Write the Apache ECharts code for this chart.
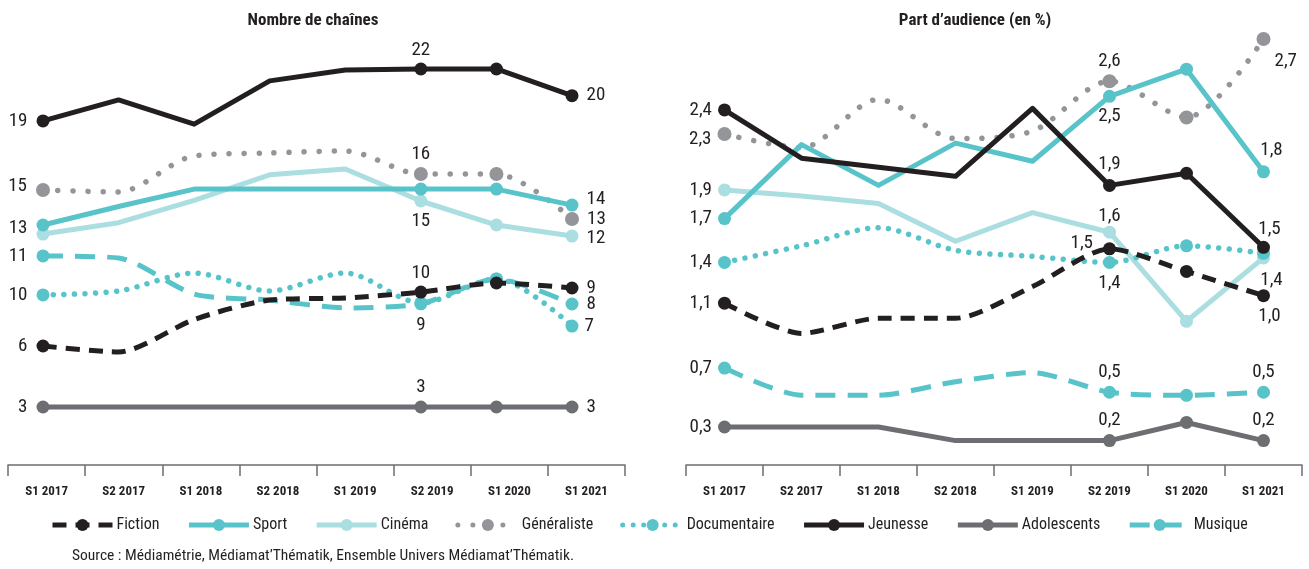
<!DOCTYPE html>
<html><head><meta charset="utf-8">
<script src="https://cdn.jsdelivr.net/npm/echarts@6/dist/echarts.min.js"></script>
<style>html,body{margin:0;padding:0;background:#fff}#c{width:1309px;height:569px}</style>
</head><body><div id="c"></div>
<script>
const categories = ['S1 2017','S2 2017','S1 2018','S2 2018','S1 2019','S2 2019','S1 2020','S1 2021'];

// Nombre de chaînes (values as read from the vertical position of each point)
const chFiction      = [6.43, 6.09, 7.92, 9.01, 9.13, 9.46, 9.97, 9.69];
const chSport        = [13.23, 14.27, 15.25, 15.25, 15.25, 15.25, 15.25, 14.35];
const chCinema       = [12.72, 13.36, 14.61, 16.05, 16.38, 14.58, 13.23, 12.61];
const chGeneraliste  = [15.2, 15.09, 17.11, 17.28, 17.39, 16.1, 16.1, 13.57];
const chDocumentaire = [9.3, 9.52, 10.53, 9.52, 10.53, 8.85, 10.2, 7.55];
const chJeunesse     = [19.08, 20.26, 18.9, 21.33, 21.94, 22.0, 22.0, 20.5];
const chAdolescents  = [3, 3, 3, 3, 3, 3, 3, 3];
const chMusique      = [11.49, 11.38, 9.35, 9.01, 8.57, 8.8, 10.2, 8.79];

const chFictionLbl      = ['6','','','','','10','','9'];
const chSportLbl        = ['13','','','','','','','14'];
const chCinemaLbl       = ['','','','','','15','','12'];
const chGeneralisteLbl  = ['15','','','','','16','','13'];
const chDocumentaireLbl = ['10','','','','','9','','7'];
const chJeunesseLbl     = ['19','','','','','22','','20'];
const chAdolescentsLbl  = ['3','','','','','3','','3'];
const chMusiqueLbl      = ['11','','','','','','','8'];

// Part d'audience (en %)
const auFiction      = [1.12, 0.92, 1.02, 1.02, 1.23, 1.48, 1.33, 1.17];
const auSport        = [1.68, 2.17, 1.9, 2.18, 2.06, 2.49, 2.67, 1.99];
const auCinema       = [1.87, 1.83, 1.78, 1.53, 1.72, 1.59, 1.0, 1.42];
const auGeneraliste  = [2.24, 2.15, 2.47, 2.21, 2.26, 2.59, 2.35, 2.87];
const auDocumentaire = [1.39, 1.5, 1.62, 1.47, 1.43, 1.39, 1.5, 1.45];
const auJeunesse     = [2.4, 2.08, 2.02, 1.96, 2.41, 1.9, 1.98, 1.49];
const auAdolescents  = [0.3, 0.3, 0.3, 0.21, 0.21, 0.21, 0.33, 0.21];
const auMusique      = [0.69, 0.51, 0.51, 0.6, 0.66, 0.53, 0.51, 0.53];

const auFictionLbl      = ['1,1','','','','','1,5','','1,0'];
const auSportLbl        = ['1,7','','','','','2,5','','1,8'];
const auCinemaLbl       = ['1,9','','','','','1,6','','1,4'];
const auGeneralisteLbl  = ['2,3','','','','','2,6','','2,7'];
const auDocumentaireLbl = ['1,4','','','','','1,4','',''];
const auJeunesseLbl     = ['2,4','','','','','1,9','','1,5'];
const auAdolescentsLbl  = ['0,3','','','','','0,2','','0,2'];
const auMusiqueLbl      = ['0,7','','','','','0,5','','0,5'];

const FONT = "'Liberation Sans Narrow','Roboto Condensed','DejaVu Sans Condensed','Arial Narrow',Roboto,sans-serif";
const INK = '#231f20';
const C = { black:'#231f20', teal:'#58c4c9', light:'#aadee1', grey:'#939598', dark:'#6d6e71' };
const markerIdx = [0, 5, 6, 7];

function build(vals, lbls, place) {
  return vals.map((v, i) => {
    const it = { value: v };
    if (!markerIdx.includes(i)) it.symbol = 'none';
    if (lbls[i]) {
      const p = place[i] || ['top', 0, 0, 5];
      it.label = { show: true, formatter: lbls[i], position: p[0], offset: [p[1] || 0, p[2] || 0], distance: p[3] == null ? 5 : p[3] };
    }
    return it;
  });
}

const styles = {
  'Fiction':      { color: C.black, lt: [14, 9], w: 5, smooth: 0.25, size: 13 },
  'Sport':        { color: C.teal,  lt: 'solid', w: 5, smooth: false, size: 13 },
  'Cinéma':       { color: C.light, lt: 'solid', w: 5, smooth: false, size: 13 },
  'Généraliste':  { color: C.grey,  lt: [0.01, 15], w: 5.5, smooth: 0.3, size: 14, cap: 'round' },
  'Documentaire': { color: C.teal,  lt: [0.01, 10.5], w: 5.5, smooth: 0.3, size: 13, cap: 'round' },
  'Jeunesse':     { color: C.black, lt: 'solid', w: 5, smooth: false, size: 13 },
  'Adolescents':  { color: C.dark,  lt: 'solid', w: 5, smooth: false, size: 13 },
  'Musique':      { color: C.teal,  lt: [20, 12], w: 5, smooth: 0.25, size: 13 }
};

function mkSeries(name, vals, lbls, place, side) {
  const s = styles[name];
  return {
    name, type: 'line', xAxisIndex: side, yAxisIndex: side, clip: false,
    data: build(vals, lbls, place),
    symbol: 'circle', symbolSize: s.size, smooth: s.smooth,
    lineStyle: { color: s.color, width: s.w, type: s.lt, cap: s.cap || 'butt', join: 'round' },
    itemStyle: { color: s.color },
    label: { show: false, fontFamily: FONT, fontSize: 19, color: INK },
    emphasis: { disabled: true }
  };
}

const L = 1, R = 3;
const series = [
  mkSeries('Adolescents', chAdolescents, chAdolescentsLbl, {0:['left',0,0,9],5:['top',0,0,4],7:['right',0,0,8]}, L),
  mkSeries('Cinéma', chCinema, chCinemaLbl, {5:['bottom',0,0,4],7:['right',0,2,8]}, L),
  mkSeries('Généraliste', chGeneraliste, chGeneralisteLbl, {0:['left',0,-4,9],5:['top',0,0,3],7:['right',0,0,8]}, L),
  mkSeries('Sport', chSport, chSportLbl, {0:['left',0,3,9],7:['right',0,-6,8]}, L),
  mkSeries('Musique', chMusique, chMusiqueLbl, {0:['left',0,0,9],7:['right',0,0,8]}, L),
  mkSeries('Documentaire', chDocumentaire, chDocumentaireLbl, {0:['left',0,0,9],5:['bottom',0,0,6],7:['right',0,0,6]}, L),
  mkSeries('Fiction', chFiction, chFictionLbl, {0:['left',0,0,9],5:['top',0,0,3],7:['right',0,0,8]}, L),
  mkSeries('Jeunesse', chJeunesse, chJeunesseLbl, {0:['left',0,0,9],5:['top',0,0,3],7:['right',0,0,8]}, L),

  mkSeries('Adolescents', auAdolescents, auAdolescentsLbl, {0:['left',0,0,6],5:['top',0,0,4],7:['top',0,0,4]}, R),
  mkSeries('Musique', auMusique, auMusiqueLbl, {0:['left',0,0,6],5:['top',0,0,4],7:['top',0,0,4]}, R),
  mkSeries('Cinéma', auCinema, auCinemaLbl, {0:['left',0,0,6],5:['top',0,0,0],7:['bottom',8,0,6]}, R),
  mkSeries('Documentaire', auDocumentaire, auDocumentaireLbl, {0:['left',0,0,6],5:['bottom',0,0,5]}, R),
  mkSeries('Fiction', auFiction, auFictionLbl, {0:['left',0,0,6],5:['left',0,-6,10],7:['bottom',6,0,5]}, R),
  mkSeries('Généraliste', auGeneraliste, auGeneralisteLbl, {0:['left',0,5,6],5:['top',0,0,3],7:['right',0,22,4]}, R),
  mkSeries('Sport', auSport, auSportLbl, {0:['left',0,0,6],5:['bottom',0,0,4],7:['top',8,0,6]}, R),
  mkSeries('Jeunesse', auJeunesse, auJeunesseLbl, {0:['left',0,0,6],5:['top',0,0,5],7:['top',6,0,2]}, R)
];

const visAxis = (gi) => ({
  type: 'category', gridIndex: gi, data: categories, boundaryGap: true,
  axisLine: { lineStyle: { color: '#6d6e71', width: 1.5 } },
  axisTick: { show: true, length: 11, lineStyle: { color: '#6d6e71', width: 1.5 } },
  axisLabel: { margin: 20, fontFamily: FONT, fontWeight: 'bold', fontSize: 13, color: INK },
  splitLine: { show: false }
});
const hidX = (gi, bg) => ({ type: 'category', gridIndex: gi, data: categories, boundaryGap: bg, show: false });
const hidY = (gi, min, max) => ({ type: 'value', gridIndex: gi, min, max, show: false, splitLine: { show: false } });

const option = {
  animation: false,
  backgroundColor: '#fff',
  grid: [
    { left: 8, top: 16, width: 617, height: 449 },
    { left: 43, top: 15.6, width: 529, height: 444.8 },
    { left: 686, top: 16, width: 616, height: 449 },
    { left: 686, top: 19.3, width: 616, height: 453 }
  ],
  xAxis: [visAxis(0), hidX(1, false), visAxis(2), hidX(3, true)],
  yAxis: [hidY(0, 0, 1), hidY(1, 0, 25), hidY(2, 0, 1), hidY(3, 0, 3)],
  legend: {
    data: ['Fiction','Sport','Cinéma','Généraliste','Documentaire','Jeunesse','Adolescents','Musique'],
    left: 45, top: 512, itemWidth: 60, itemHeight: 15, itemGap: 27,
    lineStyle: { width: 5 },
    textStyle: { fontFamily: FONT, fontSize: 16, color: INK, padding: [0, 0, 0, -1] },
    selectedMode: false
  },
  graphic: [
    { type: 'text', x: 313, y: 21, style: { text: 'Nombre de chaînes', font: "bold 17px " + FONT, fill: INK, align: 'center', verticalAlign: 'middle' } },
    { type: 'text', x: 975, y: 21, style: { text: 'Part d’audience (en %)', font: "bold 17px " + FONT, fill: INK, align: 'center', verticalAlign: 'middle' } },
    { type: 'text', x: 72, y: 556, style: { text: 'Source : Médiamétrie, Médiamat’Thématik, Ensemble Univers Médiamat’Thématik.', font: "15.5px " + FONT, fill: INK, align: 'left', verticalAlign: 'middle' } }
  ],
  series
};

const chart = echarts.init(document.getElementById('c'), null, { renderer: 'canvas' });
chart.setOption(option);
</script>
</body></html>
